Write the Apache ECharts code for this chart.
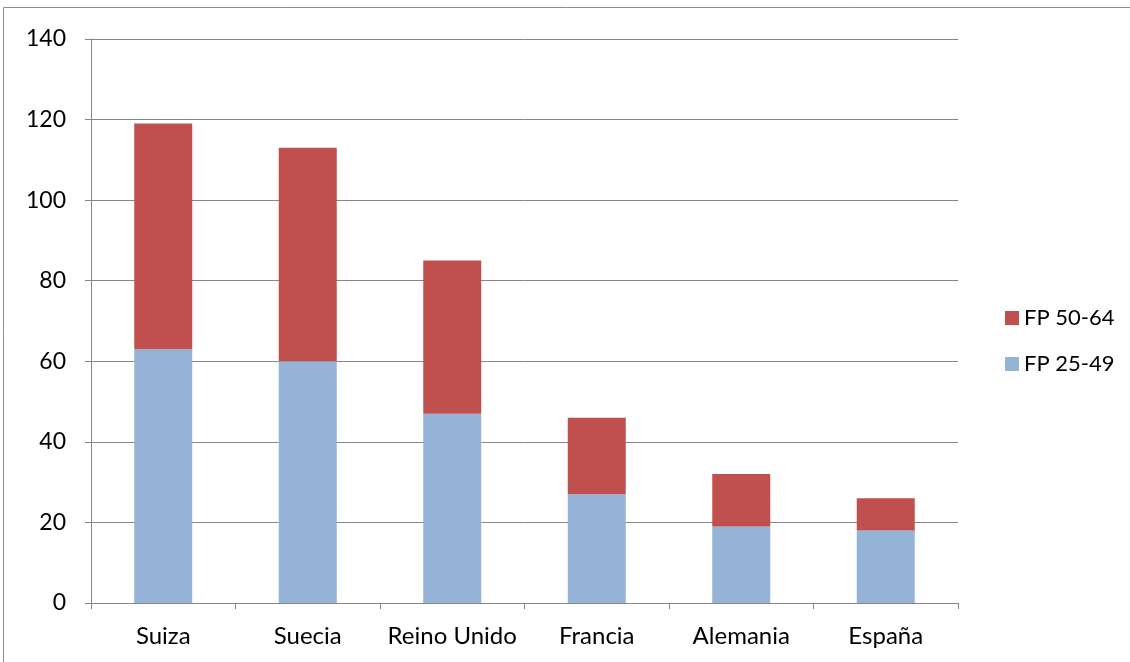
<!DOCTYPE html>
<html>
<head>
<meta charset="utf-8">
<script src="https://cdn.jsdelivr.net/npm/echarts@6/dist/echarts.min.js"></script>
<style>
  html, body { margin: 0; padding: 0; background: #fff; }
  #chart { width: 1130px; height: 662px; }
</style>
</head>
<body>
<div id="chart"></div>
<script>
// Countries along the x axis
const categories = ['Suiza', 'Suecia', 'Reino Unido', 'Francia', 'Alemania', 'España'];
// Stacked segments per country
const fp2549 = [63, 60, 47, 27, 19, 18];
const fp5064 = [56, 53, 38, 19, 13, 8];
const seriesNames = ['FP 25-49', 'FP 50-64'];

const FONT = 'Lato, "Open Sans", sans-serif';
const AXIS_GRAY = '#868686';

const chart = echarts.init(document.getElementById('chart'), null, { renderer: 'canvas' });

chart.setOption({
  animation: false,
  backgroundColor: '#ffffff',
  textStyle: { fontFamily: FONT },
  graphic: [
    {
      // outer frame of the chart area
      type: 'rect',
      shape: { x: 3.5, y: 7.5, width: 1200, height: 700 },
      style: { fill: 'none', stroke: '#8c8c8c', lineWidth: 1 },
      silent: true
    }
  ],
  grid: { left: 91, right: 172, top: 39, bottom: 59 },
  legend: {
    orient: 'vertical',
    left: 1000,
    top: 302,
    itemWidth: 14,
    itemHeight: 14,
    itemGap: 24,
    icon: 'rect',
    data: [seriesNames[1], seriesNames[0]],
    textStyle: { fontFamily: FONT, fontSize: 22, color: '#000' }
  },
  xAxis: {
    type: 'category',
    data: categories,
    axisLine: { lineStyle: { color: AXIS_GRAY, width: 1 } },
    axisTick: { show: true, interval: 0, length: 6, lineStyle: { color: AXIS_GRAY } },
    axisLabel: { interval: 0, fontFamily: FONT, fontSize: 24, color: '#000', margin: 21 }
  },
  yAxis: {
    type: 'value',
    min: 0,
    max: 140,
    interval: 20,
    axisLine: { show: true, lineStyle: { color: AXIS_GRAY, width: 1 } },
    axisTick: { show: true, length: 6, lineStyle: { color: AXIS_GRAY } },
    splitLine: { lineStyle: { color: AXIS_GRAY, width: 1 } },
    axisLabel: { fontFamily: FONT, fontSize: 23, color: '#000', margin: 25 }
  },
  series: [
    {
      name: seriesNames[0],
      type: 'bar',
      stack: 'total',
      barWidth: 58,
      data: fp2549,
      itemStyle: { color: '#95b3d7' }
    },
    {
      name: seriesNames[1],
      type: 'bar',
      stack: 'total',
      barWidth: 58,
      data: fp5064,
      itemStyle: { color: '#c0504d' }
    }
  ]
});
</script>
</body>
</html>
